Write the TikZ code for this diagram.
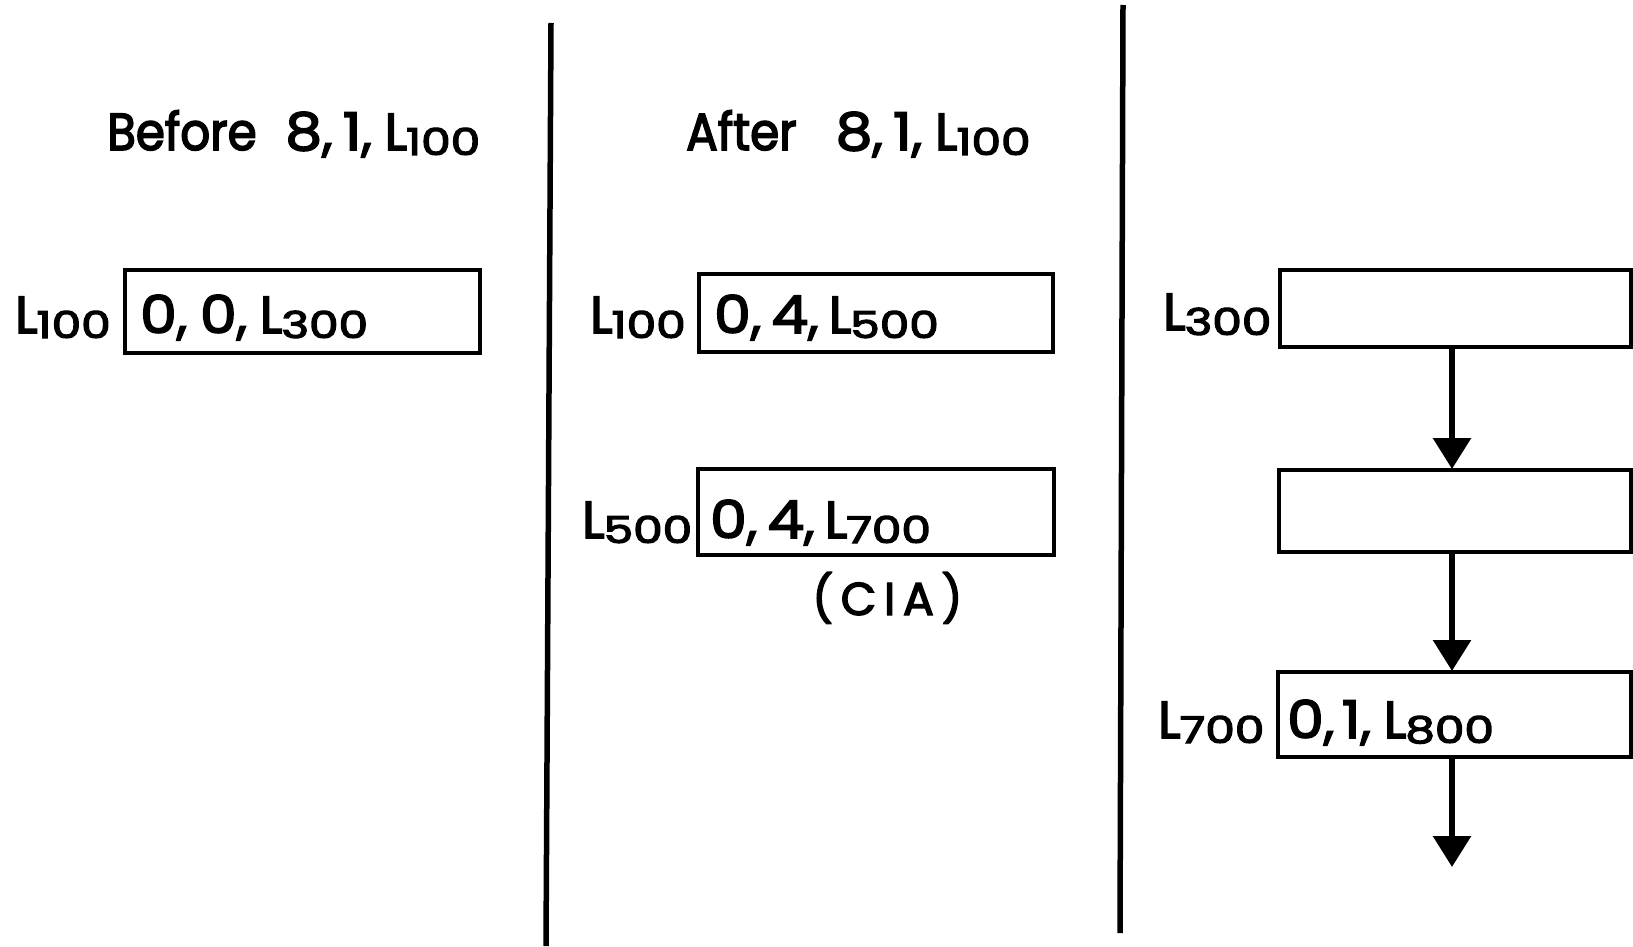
\documentclass[tikz,border=0pt]{standalone}
\usepackage{fontspec}
\usepackage{graphicx}
\setmainfont{Poppins}[FakeBold=3]
\newfontfamily\wordfont{Poppins}[FakeBold=3,FakeStretch=0.9]
\usetikzlibrary{arrows.meta}
\newcommand{\Lx}[1]{L\kern-1pt\raisebox{-5pt}{\fontsize{37}{37}\selectfont\scalebox{1.27}[1]{#1}}}
\newcommand{\Dg}[1]{\scalebox{1.12}[1]{#1}}
\tikzset{
  txt/.style={anchor=base west, inner sep=0pt, font=\fontsize{52}{60}\selectfont},
  cell/.style={draw, line width=4pt, inner sep=0pt},
  divider/.style={line width=5.5pt},
  flow/.style={line width=6pt, -{Triangle[width=37pt,length=31pt]}, shorten >=-1pt}
}
\begin{document}
\begin{tikzpicture}[x=1pt,y=-1pt]
\useasboundingbox (0,0) rectangle (1633,947);
% dividers
\coordinate (d1t) at (551,23);
\coordinate (d1b) at (546,946);
\coordinate (d2t) at (1123,5);
\coordinate (d2b) at (1120,933);
\draw[divider] (d1t) -- (d1b);
\draw[divider] (d2t) -- (d2b);
% headers
\node[txt] (h1) at (107,150) {{\wordfont Before}\hspace{0.55em}\Dg{8},\hspace{0.2em}\Dg{1},\hspace{0.25em}\Lx{100}};
\node[txt] (h2) at (686,150) {{\wordfont After}\hspace{0.75em}\Dg{8},\hspace{0.2em}\Dg{1},\hspace{0.25em}\Lx{100}};
% left column
\node[cell, minimum width=355pt, minimum height=83pt] (a1) at (302.5,311.5) {};
\node[txt] (a1l) at (15,333) {\Lx{100}};
\node[txt] (a1t) at (140,333) {\Dg{0},\hspace{0.25em}\Dg{0},\hspace{0.25em}\Lx{300}};
% middle column
\node[cell, minimum width=354pt, minimum height=78pt] (b1) at (876,313) {};
\node[txt] (b1l) at (590,333) {\Lx{100}};
\node[txt] (b1t) at (714,333) {\Dg{0},\hspace{0.2em}\Dg{4},\hspace{0.2em}\Lx{500}};
\node[cell, minimum width=356pt, minimum height=86pt] (b2) at (876,512) {};
\node[txt] (b2l) at (582,538) {\Lx{500}};
\node[txt] (b2t) at (710,538) {\Dg{0},\hspace{0.2em}\Dg{4},\hspace{0.2em}\Lx{700}};
\node[txt, font=\fontsize{46}{50}\selectfont] (cia) at (812,615) {(\,C\,I\,A\,)};
% right column
\node[cell, minimum width=351pt, minimum height=77pt] (c1) at (1455.5,308.5) {};
\node[txt] (c1l) at (1163,330) {\Lx{300}};
\node[cell, minimum width=352pt, minimum height=82pt] (c2) at (1455,511) {};
\node[cell, minimum width=353pt, minimum height=85pt] (c3) at (1454.5,714.5) {};
\node[txt] (c3l) at (1158,738) {\Lx{700}};
\node[txt] (c3t) at (1287,738) {\Dg{0},\hspace{0.15em}\Dg{1},\hspace{0.25em}\Lx{800}};
\coordinate (cend) at (1452,866);
\draw[flow] (c1.south -| cend) -- (c2.north -| cend);
\draw[flow] (c2.south -| cend) -- (c3.north -| cend);
\draw[flow] (c3.south -| cend) -- (cend);
\end{tikzpicture}
\end{document}
